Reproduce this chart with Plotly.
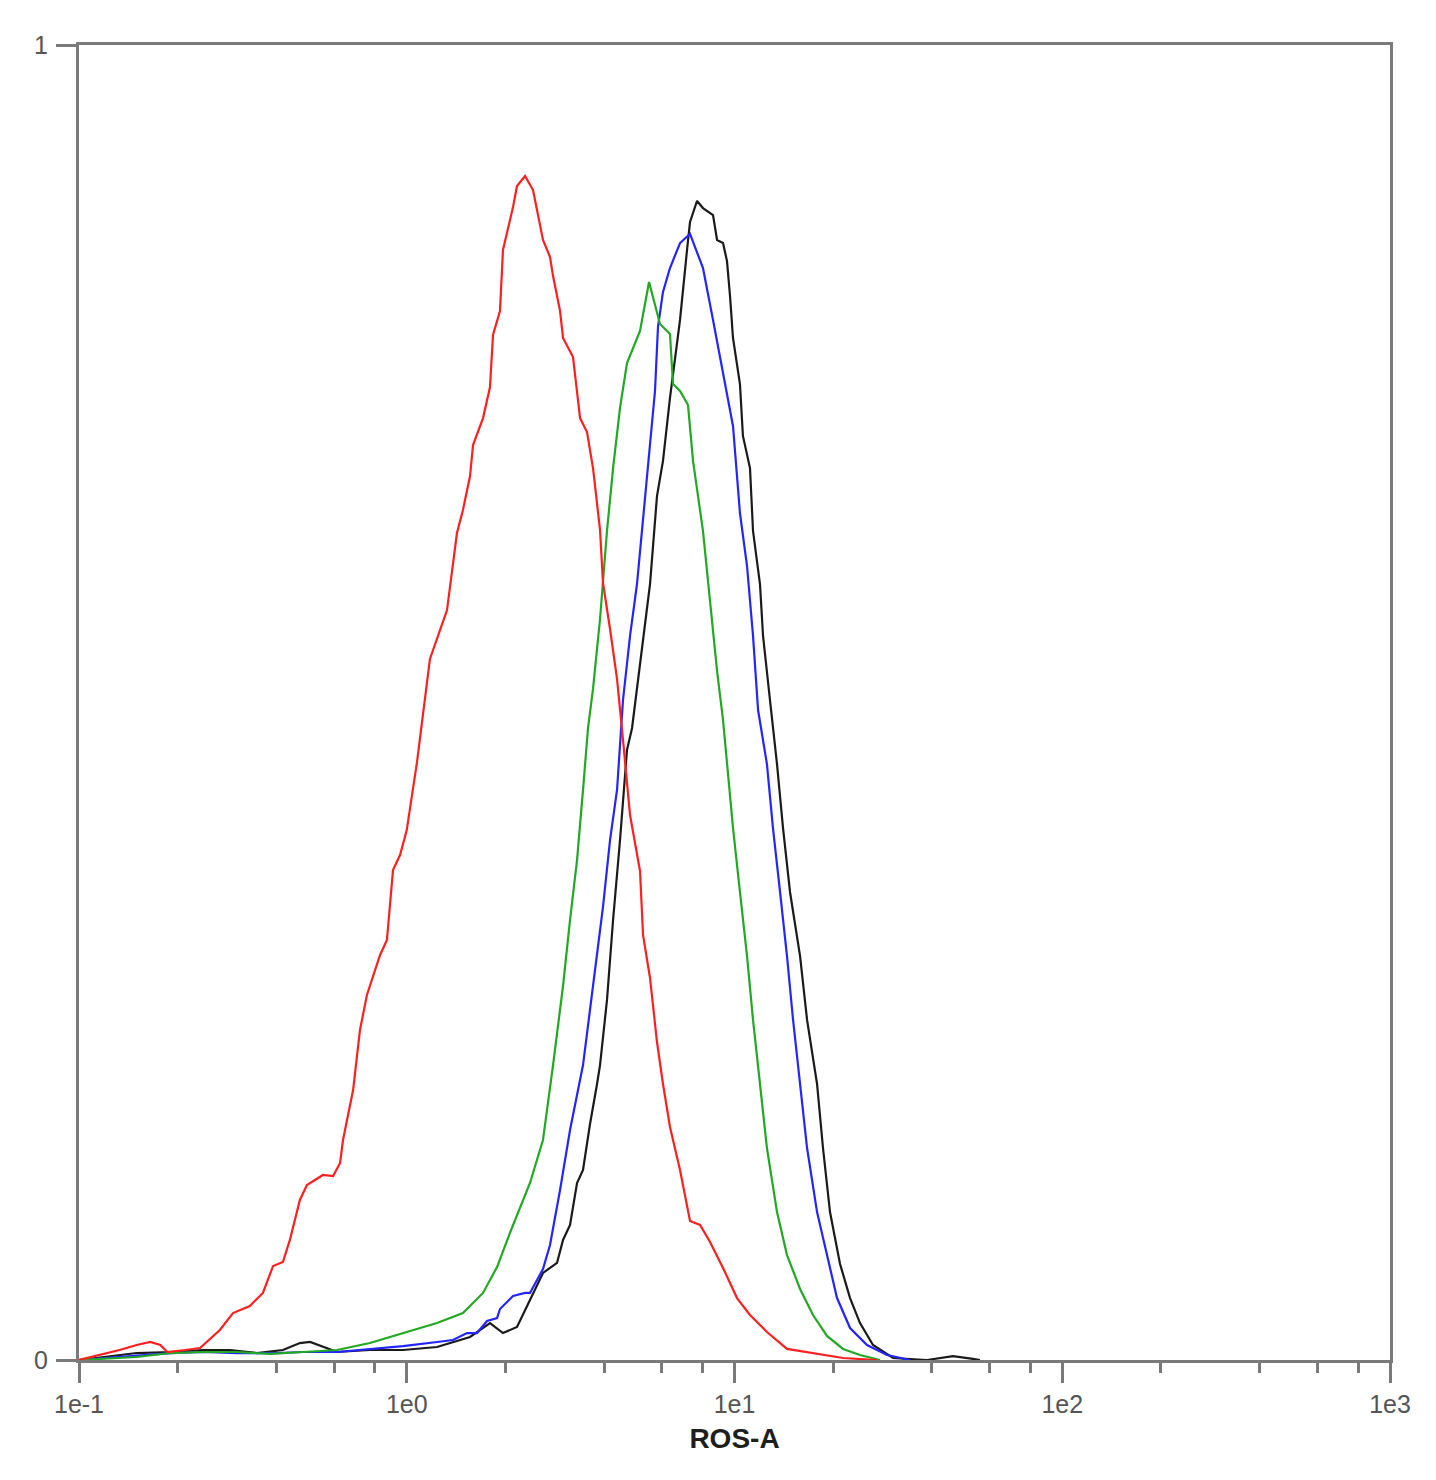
import plotly.graph_objects as go

# ROS-A histogram, normalised counts
red_x = [0.100, 0.116, 0.133, 0.150, 0.165, 0.177, 0.186, 0.211, 0.234, 0.269, 0.295,
         0.332, 0.364, 0.391, 0.419, 0.440, 0.472, 0.496, 0.555, 0.596, 0.626, 0.639,
         0.686, 0.720, 0.756, 0.829, 0.870, 0.908, 0.954, 1.00, 1.075, 1.177, 1.263,
         1.327, 1.423, 1.484, 1.560, 1.593, 1.709, 1.795, 1.833, 1.925, 1.966, 2.110,
         2.170, 2.296, 2.428, 2.604, 2.736, 2.795, 2.936, 2.998, 3.216, 3.379, 3.548,
         3.701, 3.888, 3.970, 4.171, 4.381, 4.569, 4.800, 5.149, 5.259, 5.524, 5.801,
         6.051, 6.356, 6.820, 7.316, 7.851, 8.421, 9.226, 10.18, 11.15, 12.56, 14.46,
         17.36, 21.44, 27.22]
red_y = [0.0, 0.0038, 0.0076, 0.0114, 0.0137, 0.0114, 0.0061, 0.0076, 0.0091, 0.0228,
         0.0357, 0.0411, 0.0510, 0.0715, 0.0745, 0.0913, 0.1217, 0.1331, 0.1407, 0.1399,
         0.1498, 0.1673, 0.2053, 0.2510, 0.2776, 0.3080, 0.3194, 0.3726, 0.3840, 0.4030,
         0.4548, 0.5331, 0.5559, 0.5703, 0.6289, 0.6464, 0.6722, 0.6958, 0.7163, 0.7399,
         0.7795, 0.7977, 0.8441, 0.8768, 0.8928, 0.9004, 0.8897, 0.8517, 0.8388, 0.8243,
         0.7977, 0.7772, 0.7627, 0.7163, 0.7057, 0.6783, 0.6312, 0.5909, 0.5559, 0.5179,
         0.4715, 0.4144, 0.3719, 0.3232, 0.2905, 0.2418, 0.2099, 0.1772, 0.1445, 0.1057,
         0.1027, 0.0897, 0.0700, 0.0471, 0.0342, 0.0213, 0.0084, 0.0053, 0.0015, 0.0]

green_x = [0.100, 0.150, 0.190, 0.239, 0.303, 0.383, 0.483, 0.613, 0.772, 0.974, 1.237,
           1.484, 1.709, 1.886, 2.065, 2.377, 2.604, 2.795, 2.998, 3.149, 3.308, 3.450,
           3.573, 3.701, 3.888, 4.083, 4.261, 4.474, 4.699, 5.149, 5.486, 5.925, 6.356,
           6.492, 6.820, 7.214, 7.472, 8.015, 8.421, 8.846, 9.226, 9.487, 9.895, 10.39,
           10.92, 11.39, 11.96, 12.56, 13.48, 14.46, 15.85, 17.36, 19.15, 21.44, 24.15,
           27.80]
green_y = [0.0, 0.0023, 0.0053, 0.0061, 0.0061, 0.0046, 0.0061, 0.0076, 0.0129, 0.0205,
           0.0281, 0.0357, 0.0510, 0.0707, 0.0966, 0.1346, 0.1673, 0.2243, 0.2844, 0.3346,
           0.3802, 0.4335, 0.4806, 0.5103, 0.5635, 0.6304, 0.6783, 0.7240, 0.7582, 0.7825,
           0.8198, 0.7878, 0.7802, 0.7422, 0.7369, 0.7262, 0.6837, 0.6304, 0.5772, 0.5240,
           0.4867, 0.4532, 0.4046, 0.3559, 0.3072, 0.2586, 0.2099, 0.1612, 0.1125, 0.0798,
           0.0540, 0.0342, 0.0183, 0.0084, 0.0038, 0.0]

blue_x = [0.100, 0.133, 0.190, 0.239, 0.303, 0.402, 0.483, 0.613, 0.772, 0.974, 1.237,
          1.384, 1.527, 1.638, 1.758, 1.886, 1.925, 2.110, 2.296, 2.377, 2.604, 2.736,
          2.936, 3.149, 3.450, 3.701, 3.970, 4.171, 4.381, 4.569, 4.800, 5.041, 5.222,
          5.447, 5.720, 5.842, 6.051, 6.356, 6.820, 7.316, 8.015, 8.600, 9.226, 9.895,
          10.39, 10.92, 11.39, 11.80, 12.56, 13.10, 13.77, 14.46, 15.09, 15.85, 16.65,
          17.86, 19.15, 20.55, 22.52, 25.37, 29.20, 34.32]
blue_y = [0.0, 0.0023, 0.0053, 0.0061, 0.0053, 0.0053, 0.0061, 0.0061, 0.0084, 0.0106,
          0.0137, 0.0152, 0.0205, 0.0205, 0.0297, 0.0319, 0.0388, 0.0487, 0.0510, 0.0510,
          0.0692, 0.0875, 0.1293, 0.1749, 0.2243, 0.2844, 0.3445, 0.3954, 0.4335, 0.5019,
          0.5506, 0.5901, 0.6304, 0.6837, 0.7369, 0.7856, 0.8122, 0.8304, 0.8494, 0.8563,
          0.8304, 0.7909, 0.7506, 0.7103, 0.6441, 0.6038, 0.5506, 0.4943, 0.4532, 0.4046,
          0.3559, 0.3072, 0.2586, 0.2099, 0.1612, 0.1125, 0.0798, 0.0471, 0.0243, 0.0114,
          0.0038, 0.0]

black_x = [0.100, 0.118, 0.150, 0.190, 0.239, 0.289, 0.349, 0.419, 0.472, 0.507, 0.555,
           0.613, 0.772, 0.974, 1.237, 1.560, 1.795, 1.966, 2.170, 2.377, 2.604, 2.874,
           2.998, 3.149, 3.308, 3.450, 3.624, 3.807, 3.888, 4.083, 4.261, 4.474, 4.699,
           4.869, 5.041, 5.259, 5.524, 5.801, 6.051, 6.356, 6.492, 6.820, 7.164, 7.316,
           7.687, 8.015, 8.600, 8.846, 9.226, 9.487, 9.690, 9.895, 10.39, 10.61, 11.15,
           11.39, 11.96, 12.22, 12.83, 13.48, 14.06, 14.77, 15.85, 16.65, 17.86, 18.62,
           19.56, 20.99, 22.52, 24.15, 26.46, 30.46, 38.68, 46.42, 53.43, 56.1]
black_y = [0.0, 0.0023, 0.0053, 0.0061, 0.0076, 0.0076, 0.0053, 0.0076, 0.0129, 0.0137,
           0.0099, 0.0061, 0.0076, 0.0076, 0.0099, 0.0175, 0.0281, 0.0205, 0.0251, 0.0456,
           0.0662, 0.0738, 0.0913, 0.1027, 0.1346, 0.1445, 0.1795, 0.2099, 0.2243, 0.2738,
           0.3346, 0.3954, 0.4639, 0.4806, 0.5103, 0.5506, 0.5901, 0.6570, 0.6837, 0.7316,
           0.7506, 0.7909, 0.8441, 0.8654, 0.8814, 0.8760, 0.8707, 0.8517, 0.8494, 0.8357,
           0.8091, 0.7772, 0.7422, 0.7027, 0.6783, 0.6304, 0.5901, 0.5506, 0.5019, 0.4532,
           0.4046, 0.3559, 0.3072, 0.2586, 0.2099, 0.1612, 0.1125, 0.0730, 0.0471, 0.0281,
           0.0114, 0.0015, 0.0, 0.0030, 0.0008, 0.0]

x_tickvals = [0.1, 1, 10, 100, 1000]
x_ticktext = ["1e-1", "1e0", "1e1", "1e2", "1e3"]
x_minor = [0.2, 0.4, 0.6, 0.8, 2, 4, 6, 8, 20, 40, 60, 80, 200, 400, 600, 800]
y_tickvals = [0, 1]
y_ticktext = ["0", "1"]

axis_col = "#7a7a7a"

fig = go.Figure()
# draw order: black under, red on top
for xs, ys, col in [(black_x, black_y, "#1a1a1a"),
                    (blue_x, blue_y, "#2424ff"),
                    (green_x, green_y, "#22a822"),
                    (red_x, red_y, "#ff1f1f")]:
    fig.add_trace(go.Scatter(x=xs, y=ys, mode="lines",
                             line=dict(color=col, width=2.2), showlegend=False))

# page body has an 8px margin, so the figure is a bit smaller than the window
fig.update_layout(
    width=1420, height=1464,
    margin=dict(l=71, r=38, t=37, b=112),
    paper_bgcolor="white", plot_bgcolor="white",
    font=dict(family="Liberation Sans, Arial, sans-serif"),
)
fig.update_xaxes(
    type="log", range=[-1, 3],
    tickmode="array", tickvals=x_tickvals, ticktext=x_ticktext,
    ticks="outside", ticklen=20, tickwidth=2.5, tickcolor=axis_col,
    minor=dict(tickmode="array", tickvals=x_minor, ticks="outside",
               ticklen=10, tickwidth=2.5, tickcolor=axis_col),
    tickfont=dict(size=25, color="#555555"),
    showline=True, linecolor=axis_col, linewidth=3, mirror=True,
    showgrid=False, zeroline=False,
    title=dict(text="<b>ROS-A</b>", font=dict(size=28, color="#1e1e1e"), standoff=12),
)
fig.update_yaxes(
    range=[0, 1],
    tickmode="array", tickvals=y_tickvals, ticktext=y_ticktext,
    ticks="outside", ticklen=20, tickwidth=2.5, tickcolor=axis_col,
    tickfont=dict(size=25, color="#555555"), ticklabelstandoff=3,
    showline=True, linecolor=axis_col, linewidth=3, mirror=True,
    showgrid=False, zeroline=False,
)

fig.write_html("out.html")
